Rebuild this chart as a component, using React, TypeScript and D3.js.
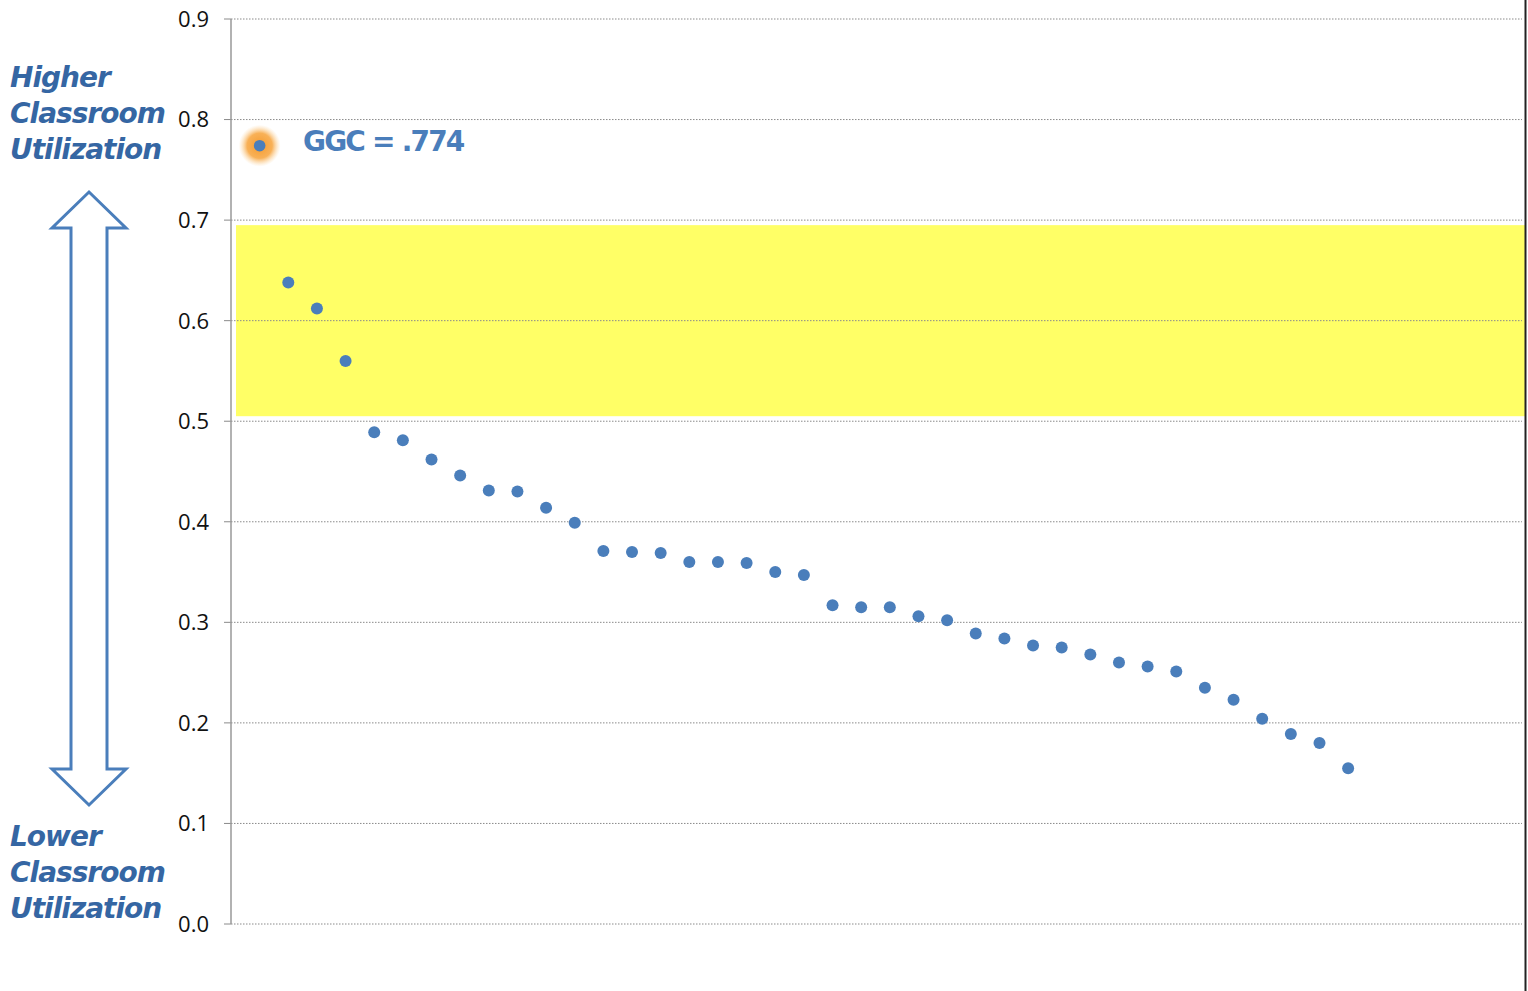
import React from 'react';
import * as d3 from 'd3';

// campus utilization values, sorted high to low (GGC highlighted separately)
const ggcValue = 0.774;
const ggcLabel = 'GGC = .774';
const otherValues = [
  0.638, 0.612, 0.56, 0.489, 0.481, 0.462, 0.446, 0.431, 0.43, 0.414,
  0.399, 0.371, 0.37, 0.369, 0.36, 0.36, 0.359, 0.35, 0.347, 0.317,
  0.315, 0.315, 0.306, 0.302, 0.289, 0.284, 0.277, 0.275, 0.268, 0.26,
  0.256, 0.251, 0.235, 0.223, 0.204, 0.189, 0.18, 0.155,
];
const yTicks = [0, 0.1, 0.2, 0.3, 0.4, 0.5, 0.6, 0.7, 0.8, 0.9];
const band = [0.505, 0.695];
const topLabel = ['Higher', 'Classroom', 'Utilization'];
const bottomLabel = ['Lower', 'Classroom', 'Utilization'];

const W = 1528;
const H = 991;
const blue = '#4a7ebb';
const textBlue = '#3566a3';

const App = () => {
  const x = d3.scaleLinear().domain([0, 45]).range([231, 1520]);
  const y = d3.scaleLinear().domain([0, 0.9]).range([924, 19]);

  // double-headed outline arrow
  const ax = 89;
  const top = 192;
  const bot = 805;
  const headW = 37;
  const shaftW = 18;
  const headH = 36;
  const arrow = `M ${ax},${top} L ${ax + headW},${top + headH} L ${ax + shaftW},${top + headH}
    L ${ax + shaftW},${bot - headH} L ${ax + headW},${bot - headH} L ${ax},${bot}
    L ${ax - headW},${bot - headH} L ${ax - shaftW},${bot - headH} L ${ax - shaftW},${top + headH}
    L ${ax - headW},${top + headH} Z`;

  const labelStyle = {
    fontFamily: '"DejaVu Sans", Verdana, sans-serif',
    fontWeight: 700,
    fontStyle: 'italic',
    fontSize: 28,
    letterSpacing: -1,
    fill: textBlue,
  } as React.CSSProperties;

  return (
    <svg width={W} height={H} style={{ position: 'absolute', left: 0, top: 0 }}>
      <defs>
        <radialGradient id="glow">
          <stop offset="0%" stopColor="#f59a2c" stopOpacity={1} />
          <stop offset="60%" stopColor="#f8ad4f" stopOpacity={0.95} />
          <stop offset="100%" stopColor="#fcd9a6" stopOpacity={0} />
        </radialGradient>
      </defs>
      <rect width={W} height={H} fill="#fff" />

      <rect x={236} y={y(band[1])} width={1525 - 236} height={y(band[0]) - y(band[1])} fill="#ffff66" />

      {yTicks.map((t) => (
        <g key={t}>
          <line x1={231} x2={1522} y1={y(t)} y2={y(t)} stroke="#8a8a8a" strokeWidth={1} strokeDasharray="1.5,1.5" />
          <line x1={224} x2={231} y1={y(t)} y2={y(t)} stroke="#8a8a8a" strokeWidth={1} />
          <text x={209} y={y(t)} dy="0.36em" textAnchor="end"
            style={{ fontFamily: '"Open Sans", sans-serif', fontSize: 22, fill: '#111' }}>
            {t.toFixed(1)}
          </text>
        </g>
      ))}
      <line x1={231} x2={231} y1={y(0.9)} y2={y(0)} stroke="#999" strokeWidth={1.5} />
      <line x1={1525.5} x2={1525.5} y1={0} y2={H} stroke="#222" strokeWidth={2} />

      <circle cx={x(1)} cy={y(ggcValue)} r={21} fill="url(#glow)" />
      <circle cx={x(1)} cy={y(ggcValue)} r={5.8} fill={blue} />
      <text x={303} y={y(ggcValue) - 5} dy="0.36em"
        style={{ fontFamily: '"DejaVu Sans", Verdana, sans-serif', fontWeight: 700, fontSize: 28, letterSpacing: -1.8, fill: blue }}>
        {ggcLabel}
      </text>

      {otherValues.map((v, i) => (
        <circle key={i} cx={x(i + 2)} cy={y(v)} r={6} fill={blue} />
      ))}

      <path d={arrow} fill="#fff" stroke={blue} strokeWidth={3} strokeLinejoin="miter" />

      {topLabel.map((s, i) => (
        <text key={'t' + i} x={10} y={77 + i * 36} dy="0.36em" style={labelStyle}>{s}</text>
      ))}
      {bottomLabel.map((s, i) => (
        <text key={'b' + i} x={10} y={836 + i * 36} dy="0.36em" style={labelStyle}>{s}</text>
      ))}
    </svg>
  );
};

export default App;
